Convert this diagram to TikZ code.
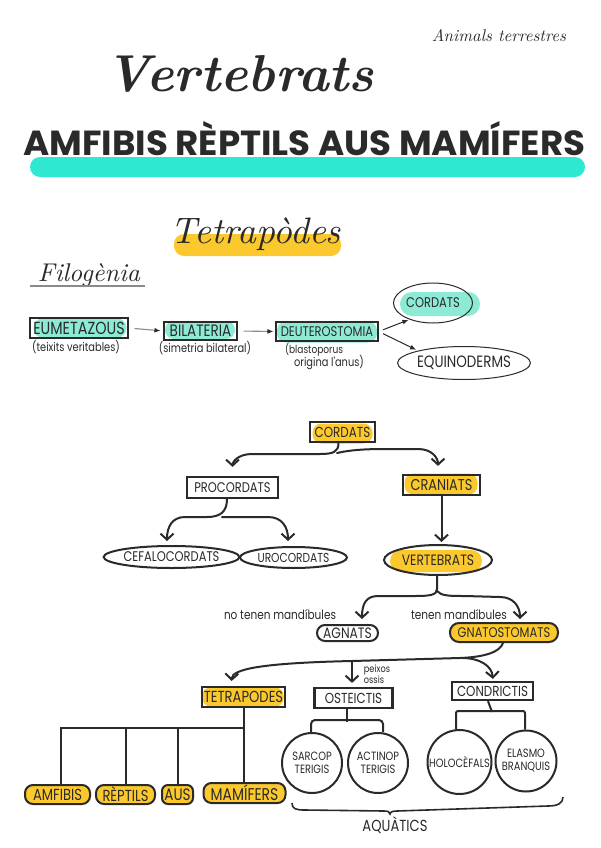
\documentclass[tikz,border=0pt]{standalone}
\usepackage{fontspec}
\usepackage{graphicx}
\newfontfamily\hand[FakeStretch=0.82]{Poppins}
\newfontfamily\handwide{Poppins}
\usetikzlibrary{arrows.meta,shapes.geometric,calc}
\definecolor{ink}{HTML}{2A2A2A}
\definecolor{yel}{HTML}{FBC82E}
\definecolor{tealbar}{HTML}{2EE8D2}
\definecolor{tealhl}{HTML}{8DEBD5}
\definecolor{grayline}{HTML}{8A8A8A}
\begin{document}
\begin{tikzpicture}[x=1pt,y=-1pt,
  fs/.style={font=\hand\fontsize{#1}{#1}\selectfont},
  lbl/.style={fs=14, text=ink, inner sep=0pt},
  small/.style={fs=12, text=ink, inner sep=0pt, align=center},
  note/.style={fs=12.8, text=ink, inner sep=0pt},
  pbox/.style={lbl, draw=ink, line width=1.1pt, rectangle},
  pell/.style={lbl, draw=ink, line width=1pt, ellipse},
  tbox/.style={lbl, draw=ink, line width=2.2pt, rectangle},
  tell/.style={lbl, draw=ink, line width=2pt, ellipse},
  pill/.style={lbl, draw=ink, line width=2pt, rectangle, rounded corners=8pt},
  circ/.style={font=\hand\fontsize{12}{13}\selectfont, text=ink, draw=ink, line width=2pt, circle, inner sep=0pt, align=center},
  hly/.style={fill=yel, draw=none, rectangle, rounded corners=9pt, inner sep=0pt},
  hlt/.style={fill=tealhl, draw=none, rectangle, rounded corners=9pt, inner sep=0pt},
  conn/.style={draw=ink, line width=2pt, line cap=round, -{Straight Barb[length=6pt,width=13pt]}},
  tree/.style={draw=ink, line width=2pt},
  phylo/.style={draw=grayline, line width=1.1pt, -{Latex[length=6pt,width=5pt,color=ink]}},
  phylod/.style={draw=ink, line width=1pt, -{Latex[length=6pt,width=5pt]}}
]
\useasboundingbox (0,0) rectangle (600,848);
\fill[white] (0,0) rectangle (600,848);

% ---------- header ----------
\node[anchor=base, inner sep=0pt, text=ink] (anim) at (499,42) {\resizebox{134pt}{!}{\itshape Animals terrestres}};
\node[anchor=base, inner sep=0pt, text=ink] (vtitle) at (240,92) {\resizebox{268pt}{!}{\bfseries\itshape Vertebrats}};
\fill[tealbar, rounded corners=10pt] (30,157) rectangle (585,177);
\node[anchor=base west, inner sep=0pt, text=ink] (maint) at (23,155) {\resizebox{562pt}{34pt}{\handwide\bfseries AMFIBIS RÈPTILS AUS MAMÍFERS}};

\fill[yel, rounded corners=10pt] (174,234) rectangle (341,256);
\node[anchor=base, inner sep=0pt, text=ink] (ttitle) at (256,243) {\resizebox{170pt}{!}{\itshape Tetrapòdes}};

\node[anchor=base, inner sep=0pt, text=ink] (ftitle) at (89,281) {\resizebox{102pt}{!}{\itshape Filogènia}};
\draw[grayline, line width=1.4pt] (30,286) -- (145,286);

% ---------- phylogeny row ----------
\node[hlt, minimum width=93pt, minimum height=19pt] (eumhl) at (80,328) {};
\node[hlt, minimum width=70pt, minimum height=18pt] (bilhl) at (200,330) {};
\node[hlt, minimum width=100pt, minimum height=21pt] (deuhl) at (327,332) {};
\node[hlt, minimum width=80pt, minimum height=24pt, rounded corners=12pt] (corhl) at (440,304) {};

\node[pbox, fs=17.5, minimum width=98pt, minimum height=20pt] (eum) at (79,328) {EUMETAZOUS};
\node[pbox, fs=16.5, minimum width=73pt, minimum height=18pt] (bil) at (200.5,331) {BILATERIA};
\node[pbox, fs=14, minimum width=102pt, minimum height=19pt] (deu) at (327,331.5) {DEUTEROSTOMIA};
\node[pell, fs=14, minimum width=79pt, minimum height=40pt] (cord1) at (433,303) {CORDATS};
\node[pell, fs=16.4, minimum width=112pt, minimum height=33pt] (equi) at (464,363) {EQUINODERMS};

\node[small] (eumlab) at (76,347) {(teixits veritables)};
\node[small] (billab) at (205,348) {(simetria bilateral)};
\node[small, fs=11] (deulab1) at (314,350) {(blastoporus};
\node[small] (deulab2) at (329,363) {origina l'anus)};

\draw[phylo, shorten <=6pt, shorten >=3pt] (eum.east) -- (bil.west);
\draw[phylo, shorten <=6pt, shorten >=2pt] (bil.east) -- (deu.west);
\draw[phylod, shorten <=5pt, shorten >=1pt] (deu.east) -- (cord1.215);
\draw[phylod, shorten <=5pt, shorten >=2pt] (deu.east) -- (equi.165);

% ---------- chordate tree ----------
\node[hly, minimum width=60pt, minimum height=20pt] (cordhl) at (342.5,433.5) {};
\node[hly, minimum width=73pt, minimum height=21pt] (cranhl) at (441,484) {};
\node[hly, minimum width=92pt, minimum height=22pt, rounded corners=11pt] (verthl) at (436,561) {};
\node[hly, minimum width=81pt, minimum height=19pt, rounded corners=8pt] (tetrahl) at (243,697) {};

\node[tbox, fs=14.5, minimum width=65pt, minimum height=20pt] (cord2) at (342.5,432) {CORDATS};
\node[tbox, fs=14, minimum width=91pt, minimum height=21pt] (proc) at (232.5,487.5) {PROCORDATS};
\node[tbox, fs=15.7, minimum width=77pt, minimum height=20pt] (cran) at (441.5,485) {CRANIATS};
\node[tell, fs=14, minimum width=113pt, minimum height=22pt] (cefa) at (171.5,557) {CEFALOCORDATS};
\node[tell, fs=13, minimum width=107pt, minimum height=21pt] (uro) at (293.5,557.5) {UROCORDATS};
\node[tell, fs=15, minimum width=108pt, minimum height=30pt] (vert) at (438,560) {VERTEBRATS};

\node[note] (nolab) at (280,615) {no tenen mandíbules};
\node[note] (silab) at (459,615) {tenen mandíbules};
\node[pill, fs=15, minimum width=61pt, minimum height=16pt] (agn) at (347.5,633) {AGNATS};
\node[pill, fs=14, fill=yel, minimum width=108pt, minimum height=19pt, rounded corners=9pt] (gna) at (504,632.5) {GNATOSTOMATS};

\node[tbox, fs=16, minimum width=83pt, minimum height=20pt] (tetra) at (243.5,697) {TETRAPODES};
\node[tbox, fs=14.5, minimum width=78pt, minimum height=20pt] (oste) at (353.5,698) {OSTEICTIS};
\node[tbox, fs=14.5, minimum width=81pt, minimum height=18pt] (cond) at (492.5,691) {CONDRICTIS};
\node[font=\hand\fontsize{10}{10}\selectfont, text=ink, inner sep=0pt, align=left] (peix) at (377,674) {peixos\\ossis};

\node[circ, minimum size=60pt] (sarc) at (312,763) {SARCOP\\TERIGIS};
\node[circ, minimum size=60pt] (acti) at (378,763) {ACTINOP\\TERIGIS};
\node[circ, minimum size=64pt] (holo) at (459.5,762) {HOLOCÈFALS};
\node[circ, minimum size=61pt] (elas) at (526,761) {ELASMO\\BRANQUIS};

\node[pill, fs=16, fill=yel, minimum width=65pt, minimum height=19pt] (amf) at (57.5,794.5) {AMFIBIS};
\node[pill, fs=16, fill=yel, minimum width=59pt, minimum height=19pt] (rep) at (125.5,794.5) {RÈPTILS};
\node[pill, fs=16.5, fill=yel, minimum width=31pt, minimum height=19pt, rounded corners=6pt] (aus) at (177.5,794.5) {AUS};
\node[pill, fs=17, fill=yel, minimum width=82pt, minimum height=20pt] (mam) at (244.5,793) {MAMÍFERS};

\node[fs=16, text=ink, inner sep=0pt] (aqua) at (395,825) {AQUÀTICS};

% connectors: cordats
\coordinate (j1) at (337,453);
\draw[conn, shorten >=9pt] ([xshift=-4pt]cord2.south) .. controls (338.5,452) and (333,454) .. (320,454) -- (252,454) .. controls (238,454) and (232.5,462) .. (proc.north);
\draw[conn, shorten >=8pt] (j1) .. controls (350,450) and (365,449) .. (385,449) -- (418,449) .. controls (432,449) and (438,458) .. ([xshift=-3.5pt]cran.north);
% procordats
\coordinate (j2) at (222,517);
\draw[conn, shorten >=4pt] ([xshift=-5.5pt]proc.south) .. controls (227,512) and (220,517) .. (207,517) -- (185,517) .. controls (172,517) and (167,527) .. ([xshift=-4.5pt]cefa.north);
\draw[conn, shorten >=5pt] (j2) -- (268,517) .. controls (282,517) and (288,527) .. ([xshift=-5.5pt]uro.north);
% craniats -> vertebrats
\draw[conn, shorten >=2pt] (cran.south) -- (cran.south |- vert.north);
% vertebrats
\coordinate (j3) at (437,591);
\draw[conn, shorten >=5pt] ([xshift=-1pt]vert.south) -- (437,589) .. controls (437,595) and (430,596) .. (415,596) -- (378,596) .. controls (366,596) and (362,604) .. ([xshift=14.5pt]agn.north);
\draw[conn, shorten >=3pt] (j3) .. controls (441,596) and (450,596) .. (465,596) -- (500,597) .. controls (513,597) and (520,606) .. ([xshift=16pt]gna.north);
% gnatostomats
\coordinate (j4) at (352,661);
\coordinate (j5) at (462,658);
\draw[conn, shorten >=5pt] ([xshift=-1pt]gna.south) .. controls (500,652) and (485,657) .. (460,658) -- (352,661) .. controls (262,663) and (232,669) .. ([xshift=-12pt]tetra.north);
\draw[conn, shorten >=4pt] (j4) -- ([xshift=-1.5pt]oste.north);
\draw[conn, shorten >=2pt] (j5) .. controls (480,658) and (492,666) .. ([xshift=0.5pt]cond.north);

% trees
\draw[tree] ([xshift=-6.5pt]oste.south) -- ++(0,13);
\draw[tree, rounded corners=4pt] ([xshift=-1pt]sarc.north) -- ++(0,-12) -| ([xshift=5pt]acti.north);
\draw[tree] ([xshift=-4.5pt]cond.south) -- (492,712);
\draw[tree, rounded corners=2pt] ([xshift=-3.5pt]holo.north) -- ++(0,-18) -| ([xshift=-1pt]elas.north);

\coordinate (tb) at (243.5,728);
\draw[tree] (tetra.south) -- (tetra.south |- mam.north);
\draw[tree] ([xshift=3.5pt]amf.north) |- (tb);
\draw[tree] (rep.north) -- (rep.north |- tb);
\draw[tree] (aus.north) -- (aus.north |- tb);

% brace
\coordinate (b1) at (292,803);
\coordinate (b2) at (563,797);
\draw[tree, line width=1.6pt] (b1) .. controls (292,809) and (296,810) .. (305,810) -- (384,811) .. controls (388,811) and (390,812) .. (390,814) .. controls (390,812) and (393,811) .. (397,811) -- (548,806) .. controls (558,806) and (563,803) .. (b2);
\end{tikzpicture}
\end{document}
